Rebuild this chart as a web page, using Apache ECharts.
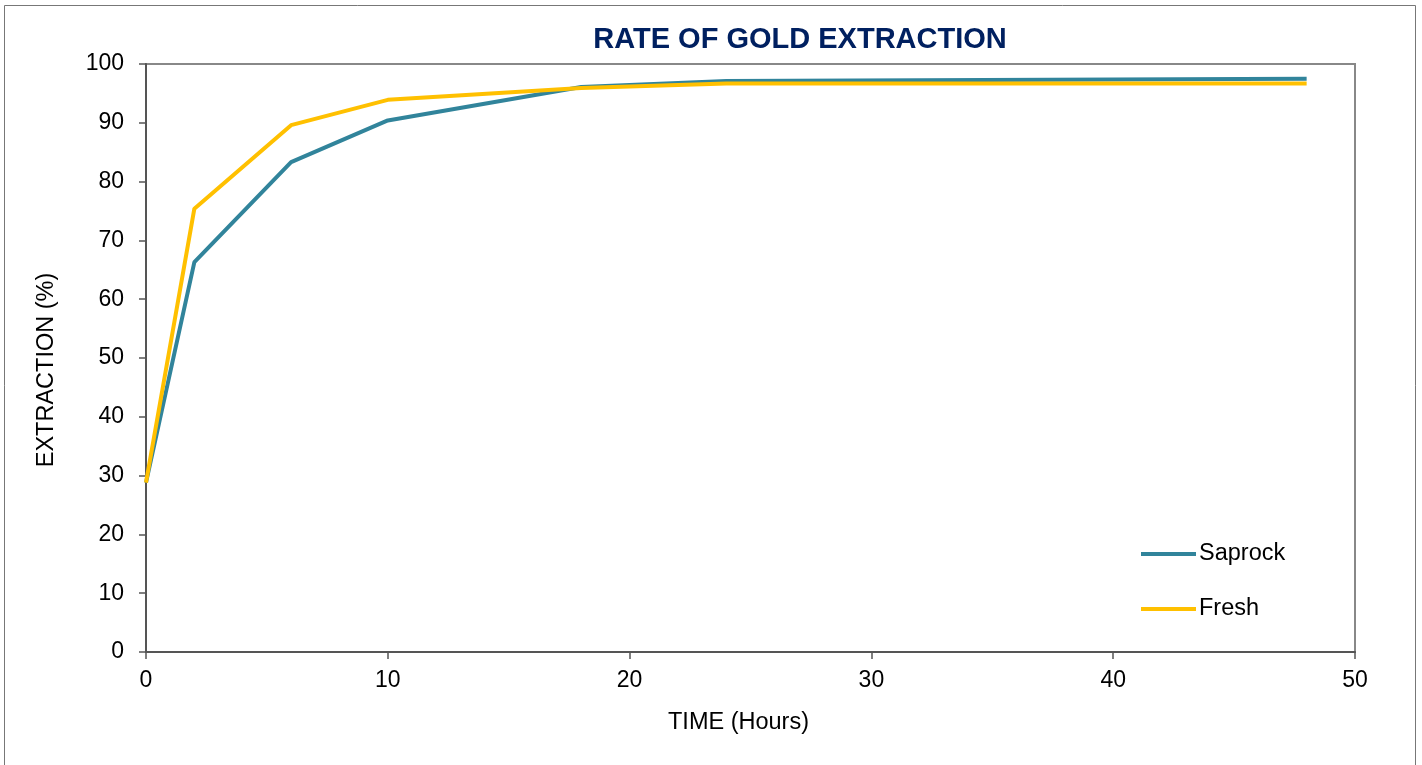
<!DOCTYPE html>
<html><head><meta charset="utf-8">
<script src="https://cdn.jsdelivr.net/npm/echarts@6/dist/echarts.min.js"></script>
<style>html,body{margin:0;padding:0;background:#fff}#c{width:1422px;height:765px}</style>
</head><body><div id="c"></div>
<script>
const hours = [0, 2, 6, 10, 18, 24, 48];
const saprock = [28.8, 66.3, 83.3, 90.4, 96.1, 97.1, 97.5];
const fresh = [28.8, 75.4, 89.6, 93.9, 95.9, 96.7, 96.7];
const seriesNames = ['Saprock', 'Fresh'];
const FONT = 'Liberation Sans';
const chart = echarts.init(document.getElementById('c'));
chart.setOption({
  animation: false,
  textStyle: {fontFamily: FONT},
  title: {text: 'RATE OF GOLD EXTRACTION', left: 795, top: 20, textAlign: 'center',
    textStyle: {fontFamily: FONT, fontSize: 29, fontWeight: 'bold', color: '#002060'}},
  graphic: [{type: 'rect', shape: {x: 4.5, y: 5.5, width: 1411, height: 780}, style: {fill: 'none', stroke: '#777', lineWidth: 1}, silent: true}],
  legend: {orient: 'vertical', left: 1136, top: 537, itemWidth: 55, itemHeight: 4, itemGap: 31, icon: 'rect',
    textStyle: {fontSize: 23.5, color: '#000', fontFamily: FONT, padding: [0, 0, 0, -2]}, data: seriesNames},
  grid: {left: 146, right: 67, top: 64, bottom: 113, show: true, borderColor: '#888', borderWidth: 2, containLabel: false},
  xAxis: {type: 'value', min: 0, max: 50, interval: 10, name: 'TIME (Hours)', nameLocation: 'middle', nameGap: 59,
    nameTextStyle: {fontSize: 23.5, color: '#000', fontFamily: FONT, padding: [0, 24, 0, 0]},
    axisLine: {show: true, onZero: false, lineStyle: {color: '#555', width: 2}},
    axisTick: {show: true, length: 7, lineStyle: {color: '#555', width: 1.5}},
    axisLabel: {fontSize: 23, color: '#000', margin: 17, fontFamily: FONT},
    splitLine: {show: false}},
  yAxis: {type: 'value', min: 0, max: 100, interval: 10, name: 'EXTRACTION (%)', nameLocation: 'middle', nameGap: 87,
    nameTextStyle: {fontSize: 23.5, color: '#000', fontFamily: FONT, padding: [0, 24, 0, 0]},
    axisLine: {show: true, onZero: false, lineStyle: {color: '#555', width: 2}},
    axisTick: {show: true, length: 7, lineStyle: {color: '#555', width: 1.5}},
    axisLabel: {fontSize: 23, color: '#000', margin: 22, fontFamily: FONT},
    splitLine: {show: false}},
  series: [
    {name: seriesNames[0], type: 'line', data: hours.map((h, i) => [h, saprock[i]]), showSymbol: false, symbol: 'none',
      lineStyle: {color: '#31849B', width: 4}, itemStyle: {color: '#31849B'}},
    {name: seriesNames[1], type: 'line', data: hours.map((h, i) => [h, fresh[i]]), showSymbol: false, symbol: 'none',
      lineStyle: {color: '#FFC000', width: 4}, itemStyle: {color: '#FFC000'}}
  ]
});
</script></body></html>
